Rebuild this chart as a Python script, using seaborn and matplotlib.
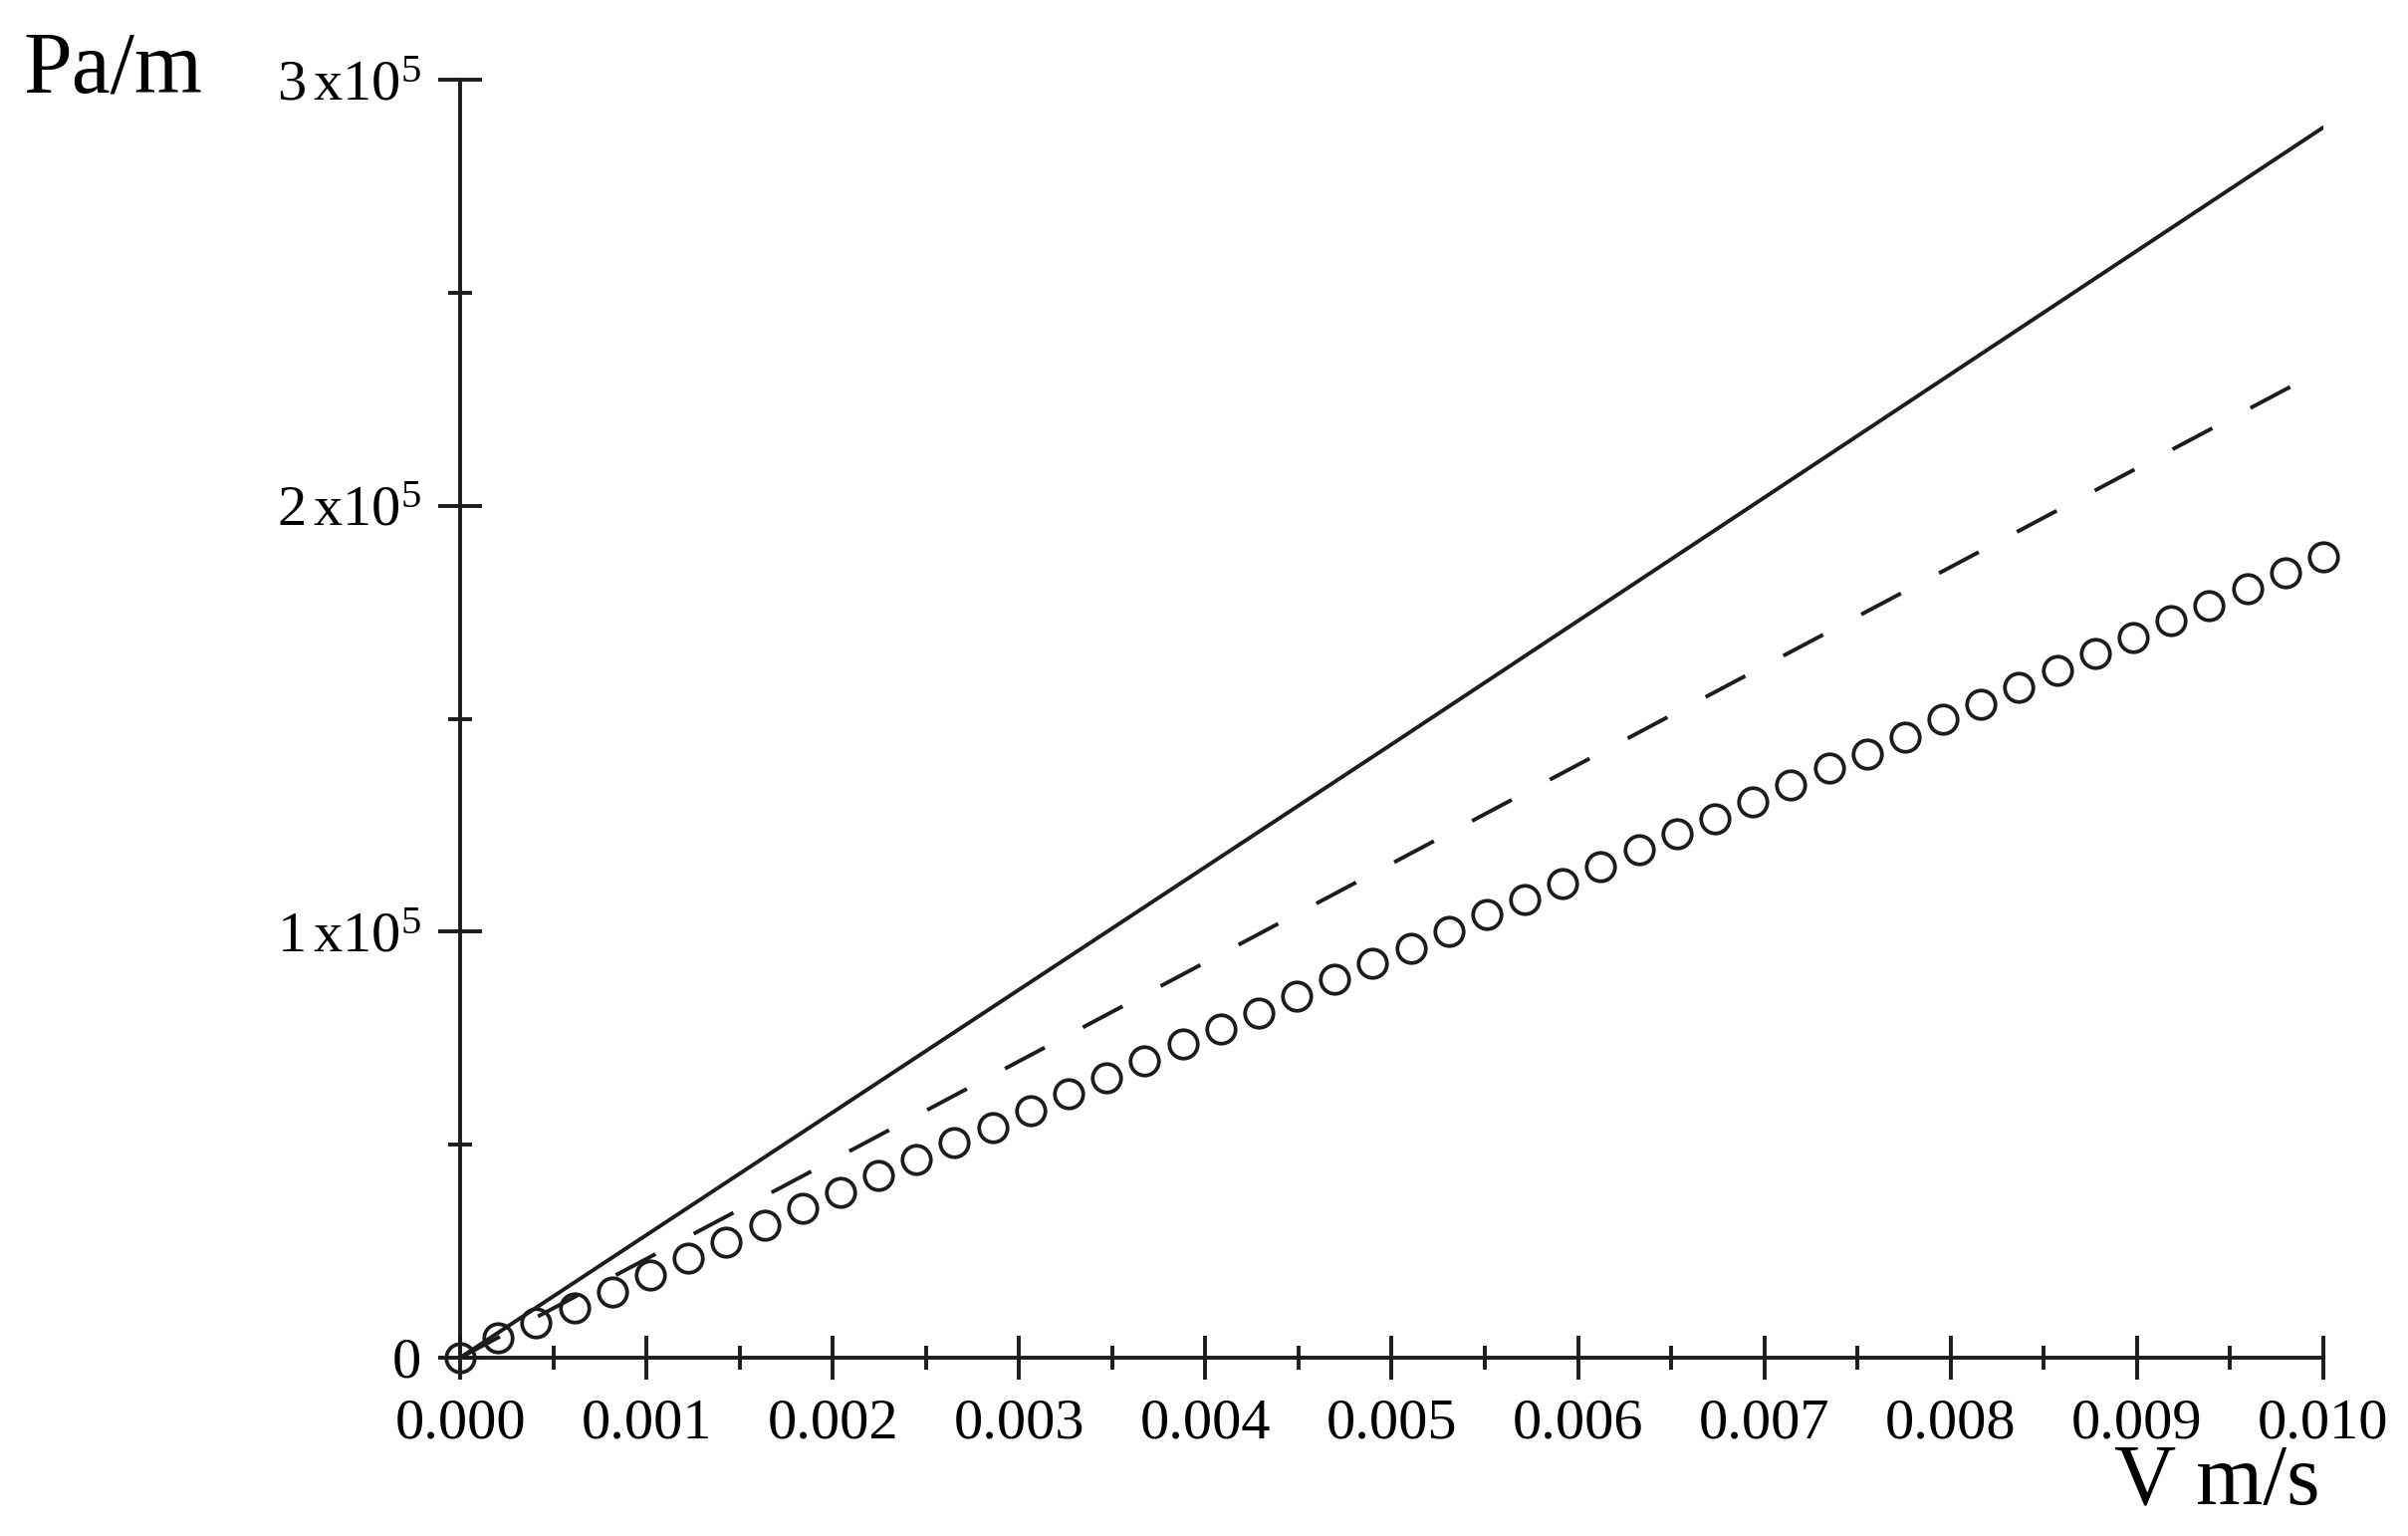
import numpy as np
import pandas as pd
import seaborn as sns
import matplotlib.pyplot as plt
from matplotlib.ticker import MultipleLocator, FixedLocator, FixedFormatter

# Data
# circles: velocity (m/s) and pressure gradient (Pa/m)
v_circles = [0.0, 0.000204, 0.000408, 0.000612, 0.000816, 0.001020, 0.001224,
             0.001429, 0.001633, 0.001837, 0.002041, 0.002245, 0.002449,
             0.002653, 0.002857, 0.003061, 0.003265, 0.003469, 0.003673,
             0.003878, 0.004082, 0.004286, 0.004490, 0.004694, 0.004898,
             0.005102, 0.005306, 0.005510, 0.005714, 0.005918, 0.006122,
             0.006327, 0.006531, 0.006735, 0.006939, 0.007143, 0.007347,
             0.007551, 0.007755, 0.007959, 0.008163, 0.008367, 0.008571,
             0.008776, 0.008980, 0.009184, 0.009388, 0.009592, 0.009796,
             0.010000]
p_circles = [0, 4600, 8100, 11600, 15500, 19400, 23300, 27200, 31100, 35000,
             38900, 42800, 46500, 50600, 54100, 58000, 61900, 65800, 69700,
             73600, 77100, 81000, 84900, 88800, 92500, 96200, 100100, 104000,
             107500, 111400, 115300, 119200, 123100, 126600, 130500, 134400,
             138500, 141800, 145700, 150000, 153500, 157400, 161300, 165200,
             169100, 173000, 176500, 180400, 184300, 188000]

# solid line
v_solid = [0.0, 0.005, 0.010]
p_solid = [0, 144000, 288800]

# dashed line
v_dashed = [0.0, 0.005, 0.010]
p_dashed = [0, 116000, 232000]

y_ticks = [0, 100000, 200000, 300000]
y_labels = ['0', r'$\mathrm{1\,x10^{5}}$', r'$\mathrm{2\,x10^{5}}$', r'$\mathrm{3\,x10^{5}}$']

df_c = pd.DataFrame({'V': v_circles, 'P': p_circles})
df_s = pd.DataFrame({'V': v_solid, 'P': p_solid})
df_d = pd.DataFrame({'V': v_dashed, 'P': p_dashed})

sns.set_style('ticks')
plt.rcParams['font.family'] = ['Liberation Serif', 'DejaVu Serif']
plt.rcParams['mathtext.fontset'] = 'custom'
plt.rcParams['mathtext.rm'] = 'Liberation Serif'
plt.rcParams['mathtext.it'] = 'Liberation Serif:italic'
plt.rcParams['text.color'] = 'black'

ink = '#1c1c1c'

fig, ax = plt.subplots(figsize=(24.18, 15.42), dpi=100)
fig.subplots_adjust(left=0.1911, right=0.9648, bottom=0.1161, top=0.9481)

sns.lineplot(data=df_s, x='V', y='P', ax=ax, color=ink, lw=2.8)
sns.lineplot(data=df_d, x='V', y='P', ax=ax, color=ink, lw=2.8,
             linestyle=(0, (11.6, 11.15)))
sns.lineplot(data=df_c, x='V', y='P', ax=ax, color=ink, linestyle='none',
             marker='o', markersize=20.5, markerfacecolor='none',
             markeredgecolor=ink, markeredgewidth=2.7, clip_on=False)

ax.set_xlim(0, 0.010)
ax.set_ylim(0, 300000)

sns.despine(ax=ax)
for side in ['left', 'bottom']:
    ax.spines[side].set_linewidth(2.8)
    ax.spines[side].set_color(ink)

# ticks crossing the axes
ax.xaxis.set_major_locator(MultipleLocator(0.001))
ax.xaxis.set_minor_locator(MultipleLocator(0.0005))
ax.xaxis.set_major_formatter(plt.FuncFormatter(lambda x, pos: f'{x:.3f}'))
ax.yaxis.set_major_locator(FixedLocator(y_ticks))
ax.yaxis.set_major_formatter(FixedFormatter(y_labels))
ax.yaxis.set_minor_locator(MultipleLocator(50000))

ax.tick_params(which='major', direction='inout', length=32, width=2.8,
               color=ink, labelsize=42, labelcolor='black')
ax.tick_params(which='minor', direction='inout', length=17, width=2.8, color=ink)
ax.tick_params(axis='x', which='major', pad=13)
ax.tick_params(axis='y', which='major', pad=12)

ax.set_xlabel('V m/s', fontsize=62, ha='left', va='baseline', color='black')
ax.xaxis.set_label_coords(0.8878, -0.1146)
ax.set_ylabel('Pa/m', fontsize=63, rotation=0, ha='left', va='baseline',
              color='black')
ax.yaxis.set_label_coords(-0.2346, 0.9906)

plt.savefig('out.png', dpi=100)
